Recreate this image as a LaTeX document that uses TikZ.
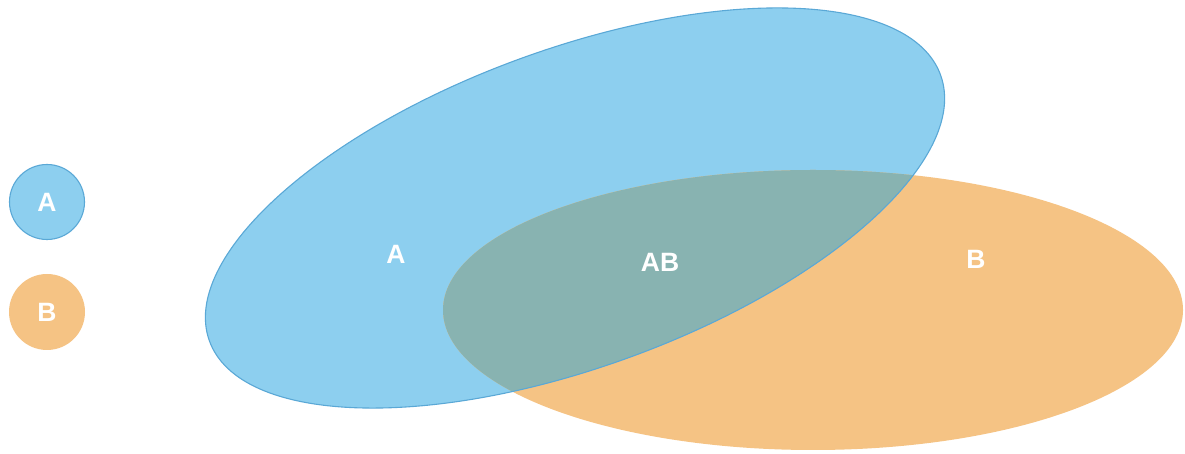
\documentclass[tikz,border=0pt]{standalone}
\usepackage{fontspec}
\setmainfont{Liberation Sans}
\definecolor{blueA}{HTML}{8DCFEF}
\definecolor{blueEdge}{HTML}{5AA8D6}
\definecolor{orangeB}{HTML}{F5C384}
\definecolor{overlapAB}{HTML}{88B3B1}
\tikzset{
  lbl/.style={text=white, font=\bfseries\fontsize{26.5}{30}\selectfont, inner sep=0pt, anchor=center},
  legA/.style={circle, fill=blueA, draw=blueEdge, line width=1.1pt, minimum size=75pt, inner sep=0pt},
  legB/.style={circle, fill=orangeB, draw=none, minimum size=76pt, inner sep=0pt}
}
\begin{document}
\begin{tikzpicture}[x=1pt,y=1pt]
\useasboundingbox (0,0) rectangle (1185,454);
% set A (rotated ellipse)
\fill[blueA] (575,246) ellipse [x radius=389, y radius=159, rotate=20];
% set B
\fill[orangeB] (813,144) ellipse [x radius=370, y radius=140];
% intersection
\begin{scope}
  \clip (575,246) ellipse [x radius=389, y radius=159, rotate=20];
  \fill[overlapAB] (813,144) ellipse [x radius=370, y radius=140];
\end{scope}
\draw[blueEdge, line width=1.1pt] (575,246) ellipse [x radius=389, y radius=159, rotate=20];
% labels
\node[lbl] (la) at (396,200) {A};
\node[lbl] (lab) at (660,192) {AB};
\node[lbl] (lb) at (976,195) {B};
% legend
\node[legA] (keyA) at (47,252) {};
\node[lbl] (keyAt) at (keyA.center) {A};
\node[legB] (keyB) at (47,142) {};
\node[lbl] (keyBt) at (keyB.center) {B};
\end{tikzpicture}
\end{document}
